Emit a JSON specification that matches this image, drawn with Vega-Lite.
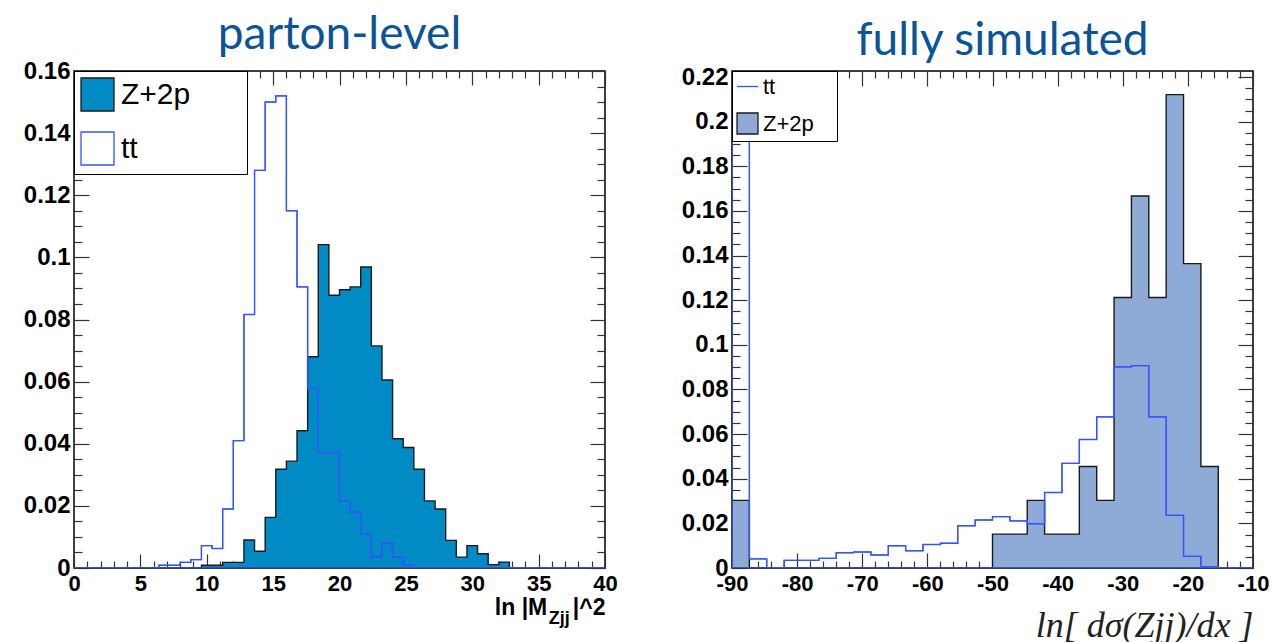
{
  "$schema": "https://vega.github.io/schema/vega-lite/v6.json",
  "padding": {"left": 22, "top": 11, "right": 0, "bottom": 0},
  "bounds": "flush",
  "spacing": 127,
  "resolve": {
    "scale": {"fill": "independent", "stroke": "independent"},
    "legend": {"fill": "independent", "stroke": "independent"}
  },
  "datasets": {
    "parton": [
      {"s": "Z+2p", "lo": 0, "v": 0}, {"s": "Z+2p", "lo": 0.8, "v": 0}, {"s": "Z+2p", "lo": 1.6, "v": 0}, {"s": "Z+2p", "lo": 2.4, "v": 0},
      {"s": "Z+2p", "lo": 3.2, "v": 0}, {"s": "Z+2p", "lo": 4.0, "v": 0}, {"s": "Z+2p", "lo": 4.8, "v": 0}, {"s": "Z+2p", "lo": 5.6, "v": 0},
      {"s": "Z+2p", "lo": 6.4, "v": 0}, {"s": "Z+2p", "lo": 7.2, "v": 0}, {"s": "Z+2p", "lo": 8.0, "v": 0}, {"s": "Z+2p", "lo": 8.8, "v": 0},
      {"s": "Z+2p", "lo": 9.6, "v": 0.0009}, {"s": "Z+2p", "lo": 10.4, "v": 0.0009}, {"s": "Z+2p", "lo": 11.2, "v": 0.0018}, {"s": "Z+2p", "lo": 12.0, "v": 0.0018},
      {"s": "Z+2p", "lo": 12.8, "v": 0.009}, {"s": "Z+2p", "lo": 13.6, "v": 0.0054}, {"s": "Z+2p", "lo": 14.4, "v": 0.0163}, {"s": "Z+2p", "lo": 15.2, "v": 0.0318},
      {"s": "Z+2p", "lo": 16.0, "v": 0.0344}, {"s": "Z+2p", "lo": 16.8, "v": 0.0442}, {"s": "Z+2p", "lo": 17.6, "v": 0.068}, {"s": "Z+2p", "lo": 18.4, "v": 0.1041},
      {"s": "Z+2p", "lo": 19.2, "v": 0.0878}, {"s": "Z+2p", "lo": 20.0, "v": 0.0896}, {"s": "Z+2p", "lo": 20.8, "v": 0.0905}, {"s": "Z+2p", "lo": 21.6, "v": 0.0969},
      {"s": "Z+2p", "lo": 22.4, "v": 0.0715}, {"s": "Z+2p", "lo": 23.2, "v": 0.0605}, {"s": "Z+2p", "lo": 24.0, "v": 0.0416}, {"s": "Z+2p", "lo": 24.8, "v": 0.0388},
      {"s": "Z+2p", "lo": 25.6, "v": 0.0318}, {"s": "Z+2p", "lo": 26.4, "v": 0.0216}, {"s": "Z+2p", "lo": 27.2, "v": 0.019}, {"s": "Z+2p", "lo": 28.0, "v": 0.0089},
      {"s": "Z+2p", "lo": 28.8, "v": 0.0035}, {"s": "Z+2p", "lo": 29.6, "v": 0.0072}, {"s": "Z+2p", "lo": 30.4, "v": 0.0046}, {"s": "Z+2p", "lo": 31.2, "v": 0.0011},
      {"s": "Z+2p", "lo": 32.0, "v": 0.0019}, {"s": "Z+2p", "lo": 32.8, "v": 0}, {"s": "Z+2p", "lo": 33.6, "v": 0}, {"s": "Z+2p", "lo": 34.4, "v": 0},
      {"s": "Z+2p", "lo": 35.2, "v": 0}, {"s": "Z+2p", "lo": 36.0, "v": 0}, {"s": "Z+2p", "lo": 36.8, "v": 0}, {"s": "Z+2p", "lo": 37.6, "v": 0},
      {"s": "Z+2p", "lo": 38.4, "v": 0}, {"s": "Z+2p", "lo": 39.2, "v": 0}, {"s": "Z+2p", "lo": 40.0, "v": 0},
      {"s": "tt", "lo": 0, "v": 0}, {"s": "tt", "lo": 0.8, "v": 0}, {"s": "tt", "lo": 1.6, "v": 0}, {"s": "tt", "lo": 2.4, "v": 0},
      {"s": "tt", "lo": 3.2, "v": 0}, {"s": "tt", "lo": 4.0, "v": 0}, {"s": "tt", "lo": 4.8, "v": 0}, {"s": "tt", "lo": 5.6, "v": 0},
      {"s": "tt", "lo": 6.4, "v": 0.0009}, {"s": "tt", "lo": 7.2, "v": 0.0009}, {"s": "tt", "lo": 8.0, "v": 0.0018}, {"s": "tt", "lo": 8.8, "v": 0.0027},
      {"s": "tt", "lo": 9.6, "v": 0.0072}, {"s": "tt", "lo": 10.4, "v": 0.0063}, {"s": "tt", "lo": 11.2, "v": 0.019}, {"s": "tt", "lo": 12.0, "v": 0.041},
      {"s": "tt", "lo": 12.8, "v": 0.0816}, {"s": "tt", "lo": 13.6, "v": 0.128}, {"s": "tt", "lo": 14.4, "v": 0.150}, {"s": "tt", "lo": 15.2, "v": 0.152},
      {"s": "tt", "lo": 16.0, "v": 0.115}, {"s": "tt", "lo": 16.8, "v": 0.0905}, {"s": "tt", "lo": 17.6, "v": 0.0578}, {"s": "tt", "lo": 18.4, "v": 0.0372},
      {"s": "tt", "lo": 19.2, "v": 0.0372}, {"s": "tt", "lo": 20.0, "v": 0.0216}, {"s": "tt", "lo": 20.8, "v": 0.018}, {"s": "tt", "lo": 21.6, "v": 0.0109},
      {"s": "tt", "lo": 22.4, "v": 0.0035}, {"s": "tt", "lo": 23.2, "v": 0.008}, {"s": "tt", "lo": 24.0, "v": 0.0035}, {"s": "tt", "lo": 24.8, "v": 0.0009},
      {"s": "tt", "lo": 25.6, "v": 0}, {"s": "tt", "lo": 26.4, "v": 0}, {"s": "tt", "lo": 27.2, "v": 0}, {"s": "tt", "lo": 28.0, "v": 0},
      {"s": "tt", "lo": 28.8, "v": 0}, {"s": "tt", "lo": 29.6, "v": 0}, {"s": "tt", "lo": 30.4, "v": 0}, {"s": "tt", "lo": 31.2, "v": 0},
      {"s": "tt", "lo": 32.0, "v": 0}, {"s": "tt", "lo": 32.8, "v": 0}, {"s": "tt", "lo": 33.6, "v": 0}, {"s": "tt", "lo": 34.4, "v": 0},
      {"s": "tt", "lo": 35.2, "v": 0}, {"s": "tt", "lo": 36.0, "v": 0}, {"s": "tt", "lo": 36.8, "v": 0}, {"s": "tt", "lo": 37.6, "v": 0},
      {"s": "tt", "lo": 38.4, "v": 0}, {"s": "tt", "lo": 39.2, "v": 0}, {"s": "tt", "lo": 40.0, "v": 0}
    ],
    "simulated": [
      {"s": "Z+2p", "lo": -90, "v": 0.0303}, {"s": "Z+2p", "lo": -87.333, "v": 0}, {"s": "Z+2p", "lo": -84.667, "v": 0}, {"s": "Z+2p", "lo": -82, "v": 0},
      {"s": "Z+2p", "lo": -79.333, "v": 0}, {"s": "Z+2p", "lo": -76.667, "v": 0}, {"s": "Z+2p", "lo": -74, "v": 0}, {"s": "Z+2p", "lo": -71.333, "v": 0},
      {"s": "Z+2p", "lo": -68.667, "v": 0}, {"s": "Z+2p", "lo": -66, "v": 0}, {"s": "Z+2p", "lo": -63.333, "v": 0}, {"s": "Z+2p", "lo": -60.667, "v": 0},
      {"s": "Z+2p", "lo": -58, "v": 0}, {"s": "Z+2p", "lo": -55.333, "v": 0}, {"s": "Z+2p", "lo": -52.667, "v": 0}, {"s": "Z+2p", "lo": -50, "v": 0.0152},
      {"s": "Z+2p", "lo": -47.333, "v": 0.0152}, {"s": "Z+2p", "lo": -44.667, "v": 0.0303}, {"s": "Z+2p", "lo": -42, "v": 0.0152}, {"s": "Z+2p", "lo": -39.333, "v": 0.0152},
      {"s": "Z+2p", "lo": -36.667, "v": 0.0455}, {"s": "Z+2p", "lo": -34, "v": 0.0303}, {"s": "Z+2p", "lo": -31.333, "v": 0.1212}, {"s": "Z+2p", "lo": -28.667, "v": 0.1667},
      {"s": "Z+2p", "lo": -26, "v": 0.1212}, {"s": "Z+2p", "lo": -23.333, "v": 0.2121}, {"s": "Z+2p", "lo": -20.667, "v": 0.1364}, {"s": "Z+2p", "lo": -18, "v": 0.0455},
      {"s": "Z+2p", "lo": -15.333, "v": 0}, {"s": "Z+2p", "lo": -12.667, "v": 0}, {"s": "Z+2p", "lo": -10, "v": 0},
      {"s": "tt", "lo": -90, "v": 0.337}, {"s": "tt", "lo": -87.333, "v": 0.0041}, {"s": "tt", "lo": -84.667, "v": 0}, {"s": "tt", "lo": -82, "v": 0.0034},
      {"s": "tt", "lo": -79.333, "v": 0.0034}, {"s": "tt", "lo": -76.667, "v": 0.0043}, {"s": "tt", "lo": -74, "v": 0.0068}, {"s": "tt", "lo": -71.333, "v": 0.0072},
      {"s": "tt", "lo": -68.667, "v": 0.0058}, {"s": "tt", "lo": -66, "v": 0.010}, {"s": "tt", "lo": -63.333, "v": 0.0077}, {"s": "tt", "lo": -60.667, "v": 0.0105},
      {"s": "tt", "lo": -58, "v": 0.0111}, {"s": "tt", "lo": -55.333, "v": 0.0189}, {"s": "tt", "lo": -52.667, "v": 0.0215}, {"s": "tt", "lo": -50, "v": 0.023},
      {"s": "tt", "lo": -47.333, "v": 0.0211}, {"s": "tt", "lo": -44.667, "v": 0.0198}, {"s": "tt", "lo": -42, "v": 0.0338}, {"s": "tt", "lo": -39.333, "v": 0.0469},
      {"s": "tt", "lo": -36.667, "v": 0.0576}, {"s": "tt", "lo": -34, "v": 0.0677}, {"s": "tt", "lo": -31.333, "v": 0.0901}, {"s": "tt", "lo": -28.667, "v": 0.0907},
      {"s": "tt", "lo": -26, "v": 0.0677}, {"s": "tt", "lo": -23.333, "v": 0.0236}, {"s": "tt", "lo": -20.667, "v": 0.0052}, {"s": "tt", "lo": -18, "v": 0.0006},
      {"s": "tt", "lo": -15.333, "v": 0}, {"s": "tt", "lo": -12.667, "v": 0}, {"s": "tt", "lo": -10, "v": 0}
    ]
  },
  "hconcat": [
    {
      "width": 531,
      "height": 497,
      "data": {"name": "parton"},
      "title": {"text": "parton-level", "font": "Lato", "fontSize": 46, "fontWeight": "normal", "color": "#0a5598", "offset": 0, "anchor": "middle"},
      "resolve": {"axis": {"x": "independent", "y": "independent"}},
      "layer": [
        {
          "mark": {"type": "area", "interpolate": "step-after", "strokeWidth": 1.4, "clip": true},
          "encoding": {
            "x": {
              "field": "lo", "type": "quantitative",
              "scale": {"domain": [0, 40], "nice": false, "zero": false},
              "axis": {
                "orient": "bottom",
                "values": [0,1,2,3,4,5,6,7,8,9,10,11,12,13,14,15,16,17,18,19,20,21,22,23,24,25,26,27,28,29,30,31,32,33,34,35,36,37,38,39,40],
                "tickSize": {"condition": {"test": "datum.value % 5 === 0", "value": -14}, "value": -7},
                "labelExpr": "datum.value % 5 === 0 ? datum.label : ''",
                "labelPadding": 19,
                "labelFlush": false,
                "labelOverlap": false,
                "title": "ln |M\u00a0\u00a0\u00a0\u00a0|^2",
                "titleFontSize": 23,
                "titleAnchor": "end",
                "titlePadding": -5
              }
            },
            "y": {
              "field": "v", "type": "quantitative", "stack": null,
              "scale": {"domain": [0, 0.16], "nice": false},
              "axis": {
                "orient": "left",
                "values": [0,0.005,0.01,0.015,0.02,0.025,0.03,0.035,0.04,0.045,0.05,0.055,0.06,0.065,0.07,0.075,0.08,0.085,0.09,0.095,0.1,0.105,0.11,0.115,0.12,0.125,0.13,0.135,0.14,0.145,0.15,0.155,0.16],
                "format": "~g",
                "tickSize": {"condition": {"test": "round(datum.value * 1000) % 20 === 0", "value": -15}, "value": -8},
                "labelExpr": "round(datum.value * 1000) % 20 === 0 ? datum.label : ''",
                "labelFontSize": 24,
                "labelPadding": 19,
                "labelFlush": false,
                "labelOverlap": false,
                "title": null
              }
            },
            "fill": {
              "field": "s", "type": "nominal",
              "scale": {"domain": ["Z+2p", "tt"], "range": ["#008bc5", "rgba(255,255,255,0)"]},
              "legend": {"title": null, "orient": "top-left", "offset": 0, "padding": 6, "symbolType": "square", "symbolSize": 1089, "labelFontSize": 30, "labelOffset": 6, "rowPadding": 15, "labelExpr": "datum.label + '\u00a0\u00a0\u00a0\u00a0\u00a0\u00a0\u200b'"}
            },
            "stroke": {
              "field": "s", "type": "nominal",
              "scale": {"domain": ["Z+2p", "tt"], "range": ["#1a1a1a", "#3355ff"]},
              "legend": {"title": null, "orient": "top-left", "offset": 0, "padding": 6, "symbolType": "square", "symbolSize": 1089, "labelFontSize": 30, "labelOffset": 6, "rowPadding": 15, "labelExpr": "datum.label + '\u00a0\u00a0\u00a0\u00a0\u00a0\u00a0\u200b'"}
            }
          }
        },
        {
          "transform": [{"filter": "datum.s === 'tt'"}],
          "mark": {"type": "line", "interpolate": "step-after", "color": "#3355ff", "strokeWidth": 1.1, "clip": true},
          "encoding": {
            "x": {
              "field": "lo", "type": "quantitative",
              "axis": {
                "orient": "top",
                "values": [0,1,2,3,4,5,6,7,8,9,10,11,12,13,14,15,16,17,18,19,20,21,22,23,24,25,26,27,28,29,30,31,32,33,34,35,36,37,38,39,40],
                "tickSize": {"condition": {"test": "datum.value % 5 === 0", "value": -14}, "value": -7},
                "labels": false,
                "title": null
              }
            },
            "y": {
              "field": "v", "type": "quantitative",
              "axis": {
                "orient": "right",
                "values": [0,0.005,0.01,0.015,0.02,0.025,0.03,0.035,0.04,0.045,0.05,0.055,0.06,0.065,0.07,0.075,0.08,0.085,0.09,0.095,0.1,0.105,0.11,0.115,0.12,0.125,0.13,0.135,0.14,0.145,0.15,0.155,0.16],
                "tickSize": {"condition": {"test": "round(datum.value * 1000) % 20 === 0", "value": -15}, "value": -8},
                "labels": false,
                "title": null
              }
            }
          }
        },
        {
          "data": {"values": [{"t": "Zjj"}]},
          "mark": {"type": "text", "font": "Liberation Sans", "fontWeight": "bold", "fontSize": 18, "align": "center", "baseline": "alphabetic", "color": "#000"},
          "encoding": {
            "text": {"field": "t", "type": "nominal"},
            "x": {"datum": 36.55, "type": "quantitative", "axis": null},
            "y": {"datum": -0.018, "type": "quantitative", "axis": null}
          }
        }
      ]
    },
    {
      "width": 521,
      "height": 497,
      "data": {"name": "simulated"},
      "title": {"text": "fully simulated", "font": "Lato", "fontSize": 46, "fontWeight": "normal", "color": "#0a5598", "offset": 0, "anchor": "middle", "dx": 10},
      "resolve": {"axis": {"x": "independent", "y": "independent"}},
      "layer": [
        {
          "mark": {"type": "area", "interpolate": "step-after", "strokeWidth": 1.4, "clip": true},
          "encoding": {
            "x": {
              "field": "lo", "type": "quantitative",
              "scale": {"domain": [-90, -10], "nice": false, "zero": false},
              "axis": {
                "orient": "bottom",
                "values": [-90,-88,-86,-84,-82,-80,-78,-76,-74,-72,-70,-68,-66,-64,-62,-60,-58,-56,-54,-52,-50,-48,-46,-44,-42,-40,-38,-36,-34,-32,-30,-28,-26,-24,-22,-20,-18,-16,-14,-12,-10],
                "tickSize": {"condition": {"test": "datum.value % 10 === 0", "value": -15}, "value": -7},
                "labelExpr": "datum.value % 10 === 0 ? '' + datum.value : ''",
                "labelPadding": 20,
                "labelFlush": false,
                "labelOverlap": false,
                "title": "ln[ dσ(Zjj)/dx ]",
                "titleFont": "Liberation Serif",
                "titleFontStyle": "italic",
                "titleFontWeight": "normal",
                "titleFontSize": 36,
                "titleColor": "#222",
                "titleAnchor": "end",
                "titlePadding": 6
              }
            },
            "y": {
              "field": "v", "type": "quantitative", "stack": null,
              "scale": {"domain": [0, 0.2227], "nice": false},
              "axis": {
                "orient": "left",
                "values": [0,0.005,0.01,0.015,0.02,0.025,0.03,0.035,0.04,0.045,0.05,0.055,0.06,0.065,0.07,0.075,0.08,0.085,0.09,0.095,0.1,0.105,0.11,0.115,0.12,0.125,0.13,0.135,0.14,0.145,0.15,0.155,0.16,0.165,0.17,0.175,0.18,0.185,0.19,0.195,0.2,0.205,0.21,0.215,0.22],
                "format": "~g",
                "tickSize": {"condition": {"test": "round(datum.value * 1000) % 20 === 0", "value": -15}, "value": -8},
                "labelExpr": "round(datum.value * 1000) % 20 === 0 ? datum.label : ''",
                "labelFontSize": 24,
                "labelPadding": 19,
                "labelFlush": false,
                "labelOverlap": false,
                "title": null
              }
            },
            "fill": {
              "field": "s", "type": "nominal",
              "scale": {"domain": ["tt", "Z+2p"], "range": ["rgba(255,255,255,0)", "#8eabd8"]},
              "legend": {"title": null, "orient": "top-left", "offset": 0, "padding": 4, "symbolType": "square", "symbolSize": 440, "labelFontSize": 22, "labelOffset": 4, "rowPadding": 12, "labelExpr": "datum.label + '\u00a0\u00a0\u00a0\u200b'", "encode": {"symbols": {"update": {"shape": {"signal": "datum.value === 'tt' ? 'stroke' : 'square'"}}}}}
            },
            "stroke": {
              "field": "s", "type": "nominal",
              "scale": {"domain": ["tt", "Z+2p"], "range": ["#3355ff", "#1a1a1a"]},
              "legend": {"title": null, "orient": "top-left", "offset": 0, "padding": 4, "symbolType": "square", "symbolSize": 440, "labelFontSize": 22, "labelOffset": 4, "rowPadding": 12, "labelExpr": "datum.label + '\u00a0\u00a0\u00a0\u200b'", "encode": {"symbols": {"update": {"shape": {"signal": "datum.value === 'tt' ? 'stroke' : 'square'"}}}}}
            }
          }
        },
        {
          "transform": [{"filter": "datum.s === 'tt'"}],
          "mark": {"type": "line", "interpolate": "step-after", "color": "#3355ff", "strokeWidth": 1.1, "clip": true},
          "encoding": {
            "x": {
              "field": "lo", "type": "quantitative",
              "axis": {
                "orient": "top",
                "values": [-90,-88,-86,-84,-82,-80,-78,-76,-74,-72,-70,-68,-66,-64,-62,-60,-58,-56,-54,-52,-50,-48,-46,-44,-42,-40,-38,-36,-34,-32,-30,-28,-26,-24,-22,-20,-18,-16,-14,-12,-10],
                "tickSize": {"condition": {"test": "datum.value % 10 === 0", "value": -15}, "value": -7},
                "labels": false,
                "title": null
              }
            },
            "y": {
              "field": "v", "type": "quantitative",
              "axis": {
                "orient": "right",
                "values": [0,0.005,0.01,0.015,0.02,0.025,0.03,0.035,0.04,0.045,0.05,0.055,0.06,0.065,0.07,0.075,0.08,0.085,0.09,0.095,0.1,0.105,0.11,0.115,0.12,0.125,0.13,0.135,0.14,0.145,0.15,0.155,0.16,0.165,0.17,0.175,0.18,0.185,0.19,0.195,0.2,0.205,0.21,0.215,0.22],
                "tickSize": {"condition": {"test": "round(datum.value * 1000) % 20 === 0", "value": -15}, "value": -8},
                "labels": false,
                "title": null
              }
            }
          }
        }
      ]
    }
  ],
  "config": {
    "view": {"stroke": "#000", "strokeWidth": 1.5},
    "axis": {
      "domain": false,
      "grid": false,
      "labelFont": "Liberation Sans",
      "labelFontWeight": "bold",
      "labelFontSize": 22,
      "labelColor": "#000",
      "tickColor": "#333",
      "tickWidth": 1.2,
      "titleFont": "Liberation Sans",
      "titleFontWeight": "bold",
      "titleColor": "#000"
    },
    "legend": {
      "strokeColor": "#000",
      "fillColor": "#fff",
      "labelFont": "Liberation Sans",
      "labelColor": "#000",
      "symbolStrokeWidth": 1.3
    }
  }
}
